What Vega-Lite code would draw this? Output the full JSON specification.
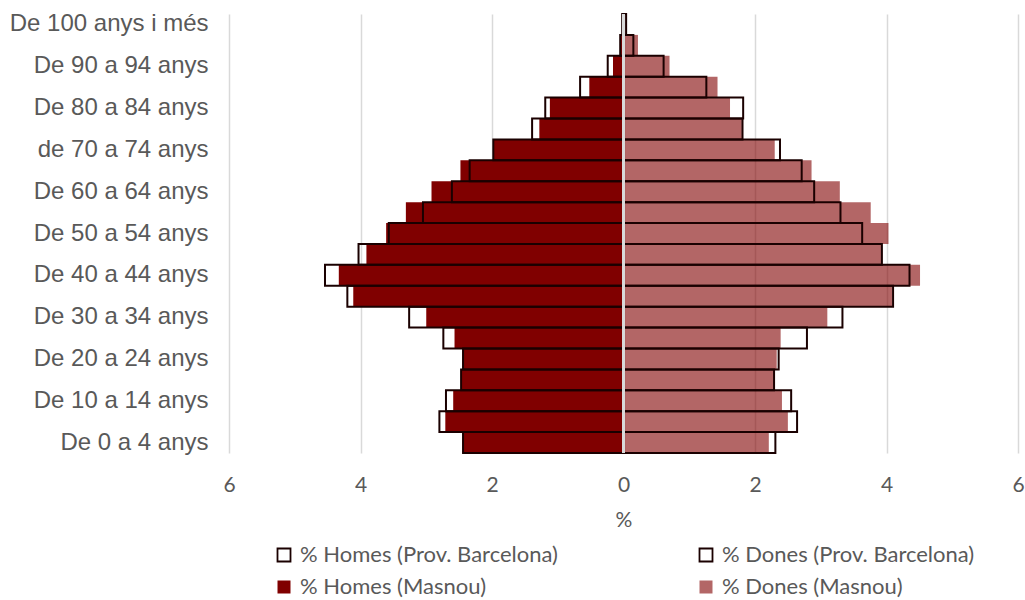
{
  "$schema": "https://vega.github.io/schema/vega-lite/v6.json",
  "width": 789,
  "height": 439,
  "autosize": {"type": "none"},
  "padding": {"left": 229, "top": 14, "right": 7, "bottom": 147},
  "background": "#ffffff",
  "config": {
    "view": {"stroke": null},
    "axis": {"labelColor": "#595959", "titleColor": "#595959"},
    "legend": {"labelColor": "#595959"}
  },
  "data": {
    "values": [
      {"edat": "De 100 anys i més", "serie": "% Homes (Masnou)", "valor": -0.01},
      {"edat": "De 100 anys i més", "serie": "% Homes (Prov. Barcelona)", "valor": -0.02},
      {"edat": "De 100 anys i més", "serie": "% Dones (Masnou)", "valor": 0.03},
      {"edat": "De 100 anys i més", "serie": "% Dones (Prov. Barcelona)", "valor": 0.04},
      {"edat": "De 95 a 99 anys", "serie": "% Homes (Masnou)", "valor": -0.04},
      {"edat": "De 95 a 99 anys", "serie": "% Homes (Prov. Barcelona)", "valor": -0.05},
      {"edat": "De 95 a 99 anys", "serie": "% Dones (Masnou)", "valor": 0.22},
      {"edat": "De 95 a 99 anys", "serie": "% Dones (Prov. Barcelona)", "valor": 0.15},
      {"edat": "De 90 a 94 anys", "serie": "% Homes (Masnou)", "valor": -0.16},
      {"edat": "De 90 a 94 anys", "serie": "% Homes (Prov. Barcelona)", "valor": -0.24},
      {"edat": "De 90 a 94 anys", "serie": "% Dones (Masnou)", "valor": 0.70},
      {"edat": "De 90 a 94 anys", "serie": "% Dones (Prov. Barcelona)", "valor": 0.61},
      {"edat": "De 85 a 89 anys", "serie": "% Homes (Masnou)", "valor": -0.52},
      {"edat": "De 85 a 89 anys", "serie": "% Homes (Prov. Barcelona)", "valor": -0.66},
      {"edat": "De 85 a 89 anys", "serie": "% Dones (Masnou)", "valor": 1.43},
      {"edat": "De 85 a 89 anys", "serie": "% Dones (Prov. Barcelona)", "valor": 1.26},
      {"edat": "De 80 a 84 anys", "serie": "% Homes (Masnou)", "valor": -1.12},
      {"edat": "De 80 a 84 anys", "serie": "% Homes (Prov. Barcelona)", "valor": -1.19},
      {"edat": "De 80 a 84 anys", "serie": "% Dones (Masnou)", "valor": 1.62},
      {"edat": "De 80 a 84 anys", "serie": "% Dones (Prov. Barcelona)", "valor": 1.82},
      {"edat": "De 75 a 79 anys", "serie": "% Homes (Masnou)", "valor": -1.28},
      {"edat": "De 75 a 79 anys", "serie": "% Homes (Prov. Barcelona)", "valor": -1.39},
      {"edat": "De 75 a 79 anys", "serie": "% Dones (Masnou)", "valor": 1.80},
      {"edat": "De 75 a 79 anys", "serie": "% Dones (Prov. Barcelona)", "valor": 1.81},
      {"edat": "de 70 a 74 anys", "serie": "% Homes (Masnou)", "valor": -1.97},
      {"edat": "de 70 a 74 anys", "serie": "% Homes (Prov. Barcelona)", "valor": -1.98},
      {"edat": "de 70 a 74 anys", "serie": "% Dones (Masnou)", "valor": 2.30},
      {"edat": "de 70 a 74 anys", "serie": "% Dones (Prov. Barcelona)", "valor": 2.38},
      {"edat": "De 65 a 69 anys", "serie": "% Homes (Masnou)", "valor": -2.48},
      {"edat": "De 65 a 69 anys", "serie": "% Homes (Prov. Barcelona)", "valor": -2.34},
      {"edat": "De 65 a 69 anys", "serie": "% Dones (Masnou)", "valor": 2.86},
      {"edat": "De 65 a 69 anys", "serie": "% Dones (Prov. Barcelona)", "valor": 2.71},
      {"edat": "De 60 a 64 anys", "serie": "% Homes (Masnou)", "valor": -2.92},
      {"edat": "De 60 a 64 anys", "serie": "% Homes (Prov. Barcelona)", "valor": -2.61},
      {"edat": "De 60 a 64 anys", "serie": "% Dones (Masnou)", "valor": 3.29},
      {"edat": "De 60 a 64 anys", "serie": "% Dones (Prov. Barcelona)", "valor": 2.90},
      {"edat": "De 55 a 59 anys", "serie": "% Homes (Masnou)", "valor": -3.31},
      {"edat": "De 55 a 59 anys", "serie": "% Homes (Prov. Barcelona)", "valor": -3.05},
      {"edat": "De 55 a 59 anys", "serie": "% Dones (Masnou)", "valor": 3.76},
      {"edat": "De 55 a 59 anys", "serie": "% Dones (Prov. Barcelona)", "valor": 3.30},
      {"edat": "De 50 a 54 anys", "serie": "% Homes (Masnou)", "valor": -3.61},
      {"edat": "De 50 a 54 anys", "serie": "% Homes (Prov. Barcelona)", "valor": -3.57},
      {"edat": "De 50 a 54 anys", "serie": "% Dones (Masnou)", "valor": 4.03},
      {"edat": "De 50 a 54 anys", "serie": "% Dones (Prov. Barcelona)", "valor": 3.63},
      {"edat": "De 45 a 49 anys", "serie": "% Homes (Masnou)", "valor": -3.91},
      {"edat": "De 45 a 49 anys", "serie": "% Homes (Prov. Barcelona)", "valor": -4.03},
      {"edat": "De 45 a 49 anys", "serie": "% Dones (Masnou)", "valor": 3.92},
      {"edat": "De 45 a 49 anys", "serie": "% Dones (Prov. Barcelona)", "valor": 3.93},
      {"edat": "De 40 a 44 anys", "serie": "% Homes (Masnou)", "valor": -4.33},
      {"edat": "De 40 a 44 anys", "serie": "% Homes (Prov. Barcelona)", "valor": -4.54},
      {"edat": "De 40 a 44 anys", "serie": "% Dones (Masnou)", "valor": 4.51},
      {"edat": "De 40 a 44 anys", "serie": "% Dones (Prov. Barcelona)", "valor": 4.35},
      {"edat": "De 35 a 39 anys", "serie": "% Homes (Masnou)", "valor": -4.11},
      {"edat": "De 35 a 39 anys", "serie": "% Homes (Prov. Barcelona)", "valor": -4.20},
      {"edat": "De 35 a 39 anys", "serie": "% Dones (Masnou)", "valor": 4.09},
      {"edat": "De 35 a 39 anys", "serie": "% Dones (Prov. Barcelona)", "valor": 4.10},
      {"edat": "De 30 a 34 anys", "serie": "% Homes (Masnou)", "valor": -3.00},
      {"edat": "De 30 a 34 anys", "serie": "% Homes (Prov. Barcelona)", "valor": -3.26},
      {"edat": "De 30 a 34 anys", "serie": "% Dones (Masnou)", "valor": 3.10},
      {"edat": "De 30 a 34 anys", "serie": "% Dones (Prov. Barcelona)", "valor": 3.33},
      {"edat": "De 25 a 29 anys", "serie": "% Homes (Masnou)", "valor": -2.57},
      {"edat": "De 25 a 29 anys", "serie": "% Homes (Prov. Barcelona)", "valor": -2.74},
      {"edat": "De 25 a 29 anys", "serie": "% Dones (Masnou)", "valor": 2.39},
      {"edat": "De 25 a 29 anys", "serie": "% Dones (Prov. Barcelona)", "valor": 2.79},
      {"edat": "De 20 a 24 anys", "serie": "% Homes (Masnou)", "valor": -2.45},
      {"edat": "De 20 a 24 anys", "serie": "% Homes (Prov. Barcelona)", "valor": -2.44},
      {"edat": "De 20 a 24 anys", "serie": "% Dones (Masnou)", "valor": 2.33},
      {"edat": "De 20 a 24 anys", "serie": "% Dones (Prov. Barcelona)", "valor": 2.36},
      {"edat": "De 15 a 19 anys", "serie": "% Homes (Masnou)", "valor": -2.46},
      {"edat": "De 15 a 19 anys", "serie": "% Homes (Prov. Barcelona)", "valor": -2.47},
      {"edat": "De 15 a 19 anys", "serie": "% Dones (Masnou)", "valor": 2.30},
      {"edat": "De 15 a 19 anys", "serie": "% Dones (Prov. Barcelona)", "valor": 2.29},
      {"edat": "De 10 a 14 anys", "serie": "% Homes (Masnou)", "valor": -2.59},
      {"edat": "De 10 a 14 anys", "serie": "% Homes (Prov. Barcelona)", "valor": -2.70},
      {"edat": "De 10 a 14 anys", "serie": "% Dones (Masnou)", "valor": 2.41},
      {"edat": "De 10 a 14 anys", "serie": "% Dones (Prov. Barcelona)", "valor": 2.55},
      {"edat": "De 5 a 9 anys", "serie": "% Homes (Masnou)", "valor": -2.71},
      {"edat": "De 5 a 9 anys", "serie": "% Homes (Prov. Barcelona)", "valor": -2.80},
      {"edat": "De 5 a 9 anys", "serie": "% Dones (Masnou)", "valor": 2.50},
      {"edat": "De 5 a 9 anys", "serie": "% Dones (Prov. Barcelona)", "valor": 2.64},
      {"edat": "De 0 a 4 anys", "serie": "% Homes (Masnou)", "valor": -2.45},
      {"edat": "De 0 a 4 anys", "serie": "% Homes (Prov. Barcelona)", "valor": -2.44},
      {"edat": "De 0 a 4 anys", "serie": "% Dones (Masnou)", "valor": 2.21},
      {"edat": "De 0 a 4 anys", "serie": "% Dones (Prov. Barcelona)", "valor": 2.31}
    ]
  },
  "encoding": {
    "y": {
      "field": "edat",
      "type": "nominal",
      "sort": ["De 100 anys i més", "De 95 a 99 anys", "De 90 a 94 anys", "De 85 a 89 anys", "De 80 a 84 anys", "De 75 a 79 anys", "de 70 a 74 anys", "De 65 a 69 anys", "De 60 a 64 anys", "De 55 a 59 anys", "De 50 a 54 anys", "De 45 a 49 anys", "De 40 a 44 anys", "De 35 a 39 anys", "De 30 a 34 anys", "De 25 a 29 anys", "De 20 a 24 anys", "De 15 a 19 anys", "De 10 a 14 anys", "De 5 a 9 anys", "De 0 a 4 anys"],
      "scale": {"paddingInner": 0, "paddingOuter": 0},
      "axis": {
        "title": null,
        "values": ["De 100 anys i més", "De 90 a 94 anys", "De 80 a 84 anys", "de 70 a 74 anys", "De 60 a 64 anys", "De 50 a 54 anys", "De 40 a 44 anys", "De 30 a 34 anys", "De 20 a 24 anys", "De 10 a 14 anys", "De 0 a 4 anys"],
        "domain": false,
        "ticks": false,
        "grid": false,
        "labelFont": "Liberation Sans",
        "labelFontSize": 24,
        "labelPadding": 21,
        "labelLimit": 300
      }
    }
  },
  "layer": [
    {
      "transform": [{"filter": {"field": "serie", "oneOf": ["% Homes (Masnou)", "% Dones (Masnou)"]}}],
      "mark": {"type": "bar", "strokeWidth": 0},
      "encoding": {
        "x": {
          "field": "valor",
          "type": "quantitative",
          "scale": {"domain": [-6, 6], "nice": false},
          "axis": {
            "title": "%",
            "values": [-6, -4, -2, 0, 2, 4, 6],
            "labelExpr": "abs(datum.value)",
            "labelFlush": false,
            "domain": false,
            "ticks": false,
            "grid": true,
            "gridColor": "#d9d9d9",
            "gridWidth": 1.5,
            "labelFont": "Lato",
            "labelFontSize": 21,
            "labelPadding": 21,
            "titleFont": "Lato",
            "titleFontSize": 21,
            "titleFontWeight": "normal",
            "titlePadding": 14
          }
        },
        "fill": {
          "field": "serie",
          "type": "nominal",
          "scale": {
            "domain": ["% Homes (Prov. Barcelona)", "% Dones (Prov. Barcelona)", "% Homes (Masnou)", "% Dones (Masnou)"],
            "range": ["#ffffff", "#ffffff", "#800000", "rgba(128,0,0,0.6)"]
          },
          "legend": {
            "title": null,
            "orient": "none",
            "legendX": 44,
            "legendY": 530,
            "padding": 0,
            "direction": "horizontal",
            "columns": 2,
            "columnPadding": 137,
            "rowPadding": 10,
            "symbolType": "square",
            "symbolSize": 169,
            "labelFont": "Lato",
            "labelFontSize": 22,
            "labelOffset": 5,
            "labelLimit": 400,
            "encode": {
              "symbols": {
                "update": {
                  "stroke": {"signal": "indexof(datum.value, 'Prov') >= 0 ? '#1a0000' : 'transparent'"},
                  "strokeWidth": {"value": 1.8}
                }
              }
            }
          }
        }
      }
    },
    {
      "transform": [{"filter": {"field": "serie", "oneOf": ["% Homes (Prov. Barcelona)", "% Dones (Prov. Barcelona)"]}}],
      "mark": {"type": "bar", "fill": "#ffffff", "fillOpacity": 0, "stroke": "#1a0000", "strokeWidth": 2},
      "encoding": {
        "x": {"field": "valor", "type": "quantitative"}
      }
    },
    {
      "mark": {"type": "rule", "color": "#d9d9d9", "strokeWidth": 1.5},
      "encoding": {"x": {"datum": 0, "type": "quantitative"}, "y": {"value": 0}, "y2": {"value": 439}}
    }
  ]
}
